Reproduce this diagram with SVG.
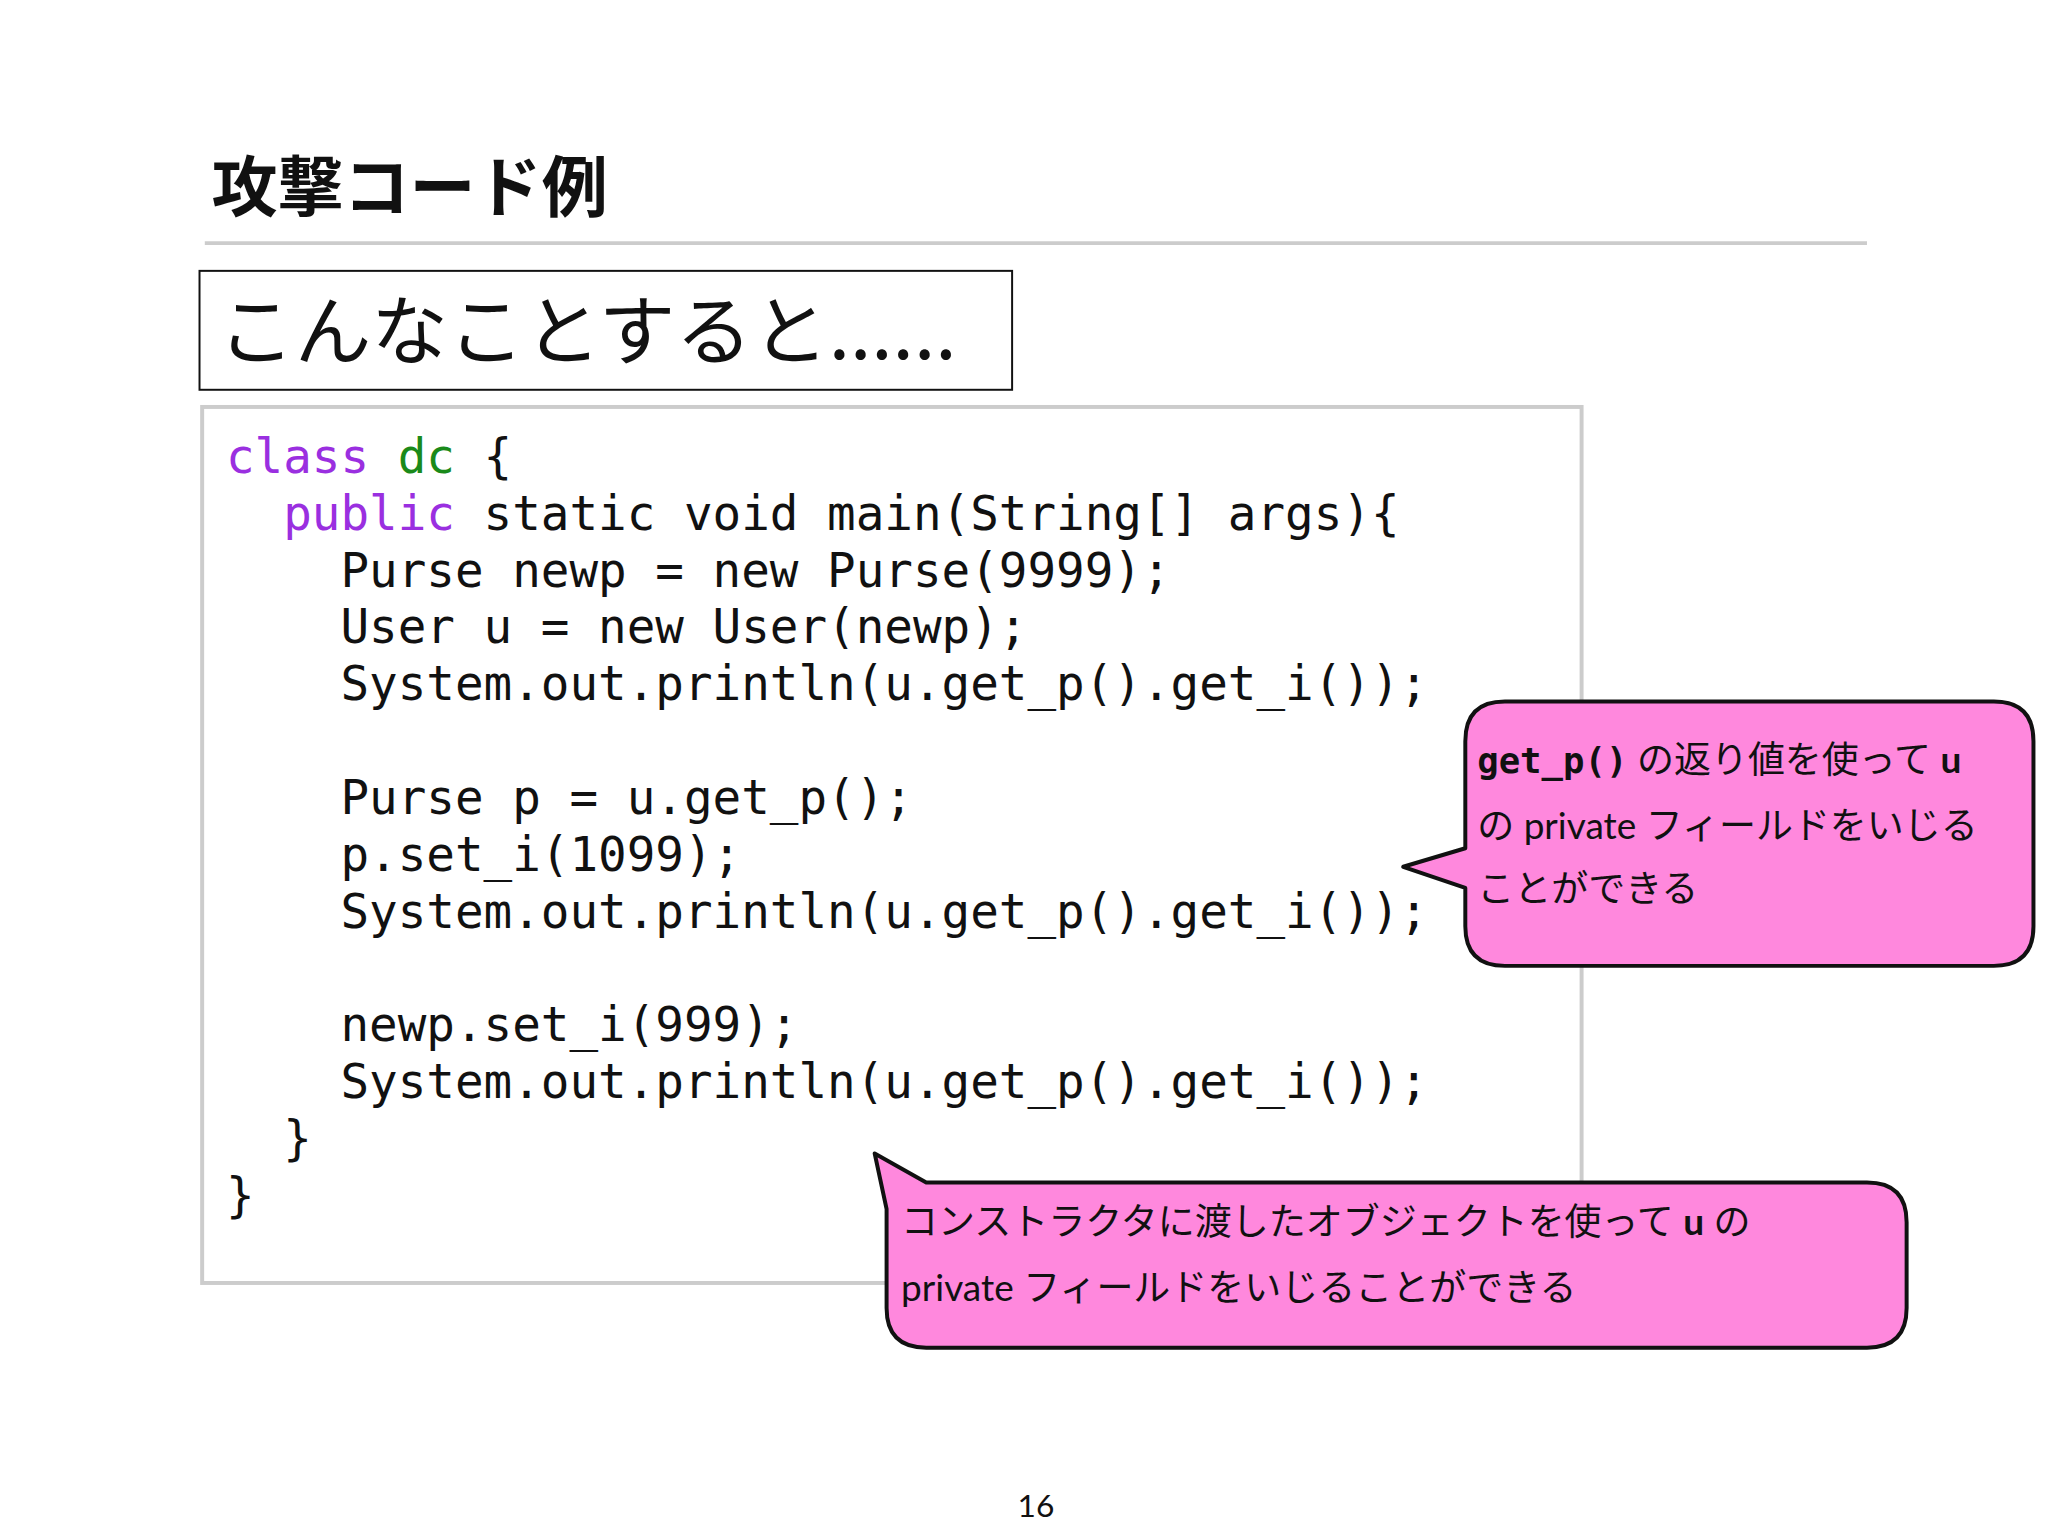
<svg xmlns="http://www.w3.org/2000/svg" width="2048" height="1536" viewBox="0 0 2048 1536">
<style>
.code{font-family:"DejaVu Sans Mono",monospace;font-size:36px;fill:#111}
.kw{fill:#9a2fe0}.gr{fill:#1a8a1a}
.jp{font-family:"Lato","Noto Sans CJK JP",sans-serif;font-size:28px;fill:#111}
.bubble{fill:#ff88dd;stroke:#111;stroke-width:3;stroke-linejoin:round}
</style>
<rect width="2048" height="1536" fill="#fff"/>
<g transform="scale(1.32129)">
<g id="title">
<text x="160" y="160" font-family="'Noto Sans CJK JP',sans-serif" font-size="50" font-weight="bold" fill="#111">攻撃コード例</text>
<line x1="155" y1="184" x2="1413" y2="184" stroke="#ccc" stroke-width="3"/>
</g>
<g id="heading">
<rect x="151" y="205" width="615" height="90" fill="#fff" stroke="#111" stroke-width="1.5"/>
<text x="165" y="272" font-family="'Noto Sans CJK JP',sans-serif" font-size="58" fill="#111">こんなことすると......</text>
</g>
<g id="code">
<rect x="153" y="308" width="1044" height="663" fill="#fff" stroke="#ccc" stroke-width="3"/>
<text class="code" xml:space="preserve">
<tspan x="171" y="358"><tspan class="kw">class</tspan> <tspan class="gr">dc</tspan> {</tspan>
<tspan x="171" y="401">  <tspan class="kw">public</tspan> static void main(String[] args){</tspan>
<tspan x="171" y="444">    Purse newp = new Purse(9999);</tspan>
<tspan x="171" y="487">    User u = new User(newp);</tspan>
<tspan x="171" y="530">    System.out.println(u.get_p().get_i());</tspan>
<tspan x="171" y="616">    Purse p = u.get_p();</tspan>
<tspan x="171" y="659">    p.set_i(1099);</tspan>
<tspan x="171" y="702">    System.out.println(u.get_p().get_i());</tspan>
<tspan x="171" y="788">    newp.set_i(999);</tspan>
<tspan x="171" y="831">    System.out.println(u.get_p().get_i());</tspan>
<tspan x="171" y="874">  }</tspan>
<tspan x="171" y="917">}</tspan>
</text>
</g>
<g id="callout1">
<path class="bubble" d="M1139,531 H1509 Q1539,531 1539,561 V701 Q1539,731 1509,731 H1139 Q1109,731 1109,701 V672 L1062,656 L1109,642 V561 Q1109,531 1139,531 Z"/>
<text class="jp" x="1118" y="585"><tspan font-family="'DejaVu Sans Mono',monospace" font-weight="bold" font-size="27">get_p()</tspan> の返り値を使って <tspan font-weight="bold">u</tspan></text>
<text class="jp" x="1118" y="635">の private フィールドをいじる</text>
<text class="jp" x="1118" y="683">ことができる</text>
</g>
<g id="callout2">
<path class="bubble" d="M701,895 H1413 Q1443,895 1443,925 V990 Q1443,1020 1413,1020 H701 Q671,1020 671,990 V915 L662,873 L701,895 Z"/>
<text class="jp" x="682" y="935">コンストラクタに渡したオブジェクトを使って <tspan font-weight="bold">u</tspan> の</text>
<text class="jp" x="682" y="985">private フィールドをいじることができる</text>
</g>
<text x="784" y="1148" text-anchor="middle" font-family="Lato,sans-serif" font-size="24" fill="#111">16</text>
</g>
</svg>
